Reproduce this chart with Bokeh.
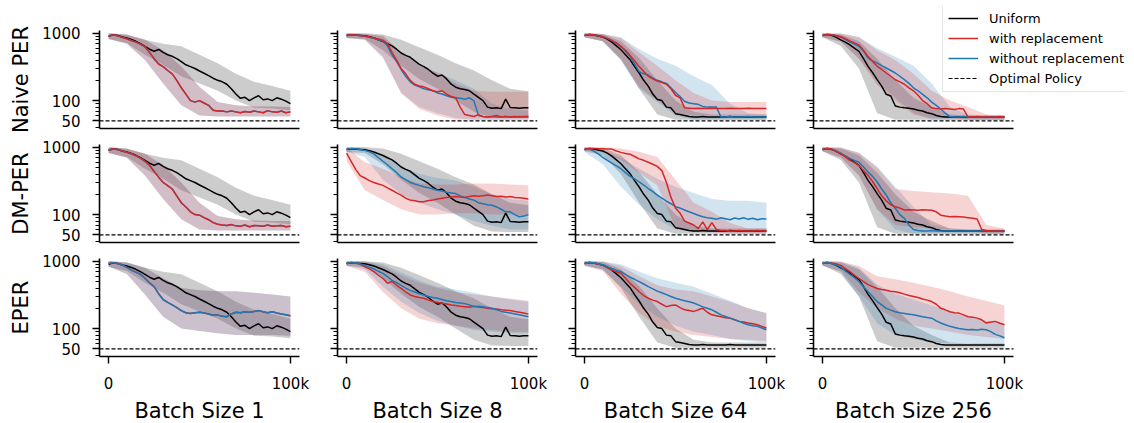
import math
from bokeh.plotting import figure
from bokeh.layouts import gridplot
from bokeh.models import (Range1d, FixedTicker, Legend, LegendItem, PrintfTickFormatter, Title)
from bokeh.embed import file_html
from bokeh.resources import INLINE

# ---------------- data ----------------
steps = [i * 2500 for i in range(41)]          # training steps for mean curves
band_steps = [i * 10000 for i in range(11)]    # training steps for spread bands

batch_sizes = [1, 8, 64, 256]
batch_titles = ["Batch Size 1", "Batch Size 8", "Batch Size 64", "Batch Size 256"]
row_names = ["Naive PER", "DM-PER", "EPER"]
optimal_value = 50
x_tick_values = [0, 100000]
x_tick_labels = ["0", "100k"]
y_major_ticks = [50, 100, 1000]
y_minor_ticks = [40, 60, 70, 80, 90, 200, 300, 400, 500, 600, 700, 800, 900]
legend_labels = ["Uniform", "with replacement", "without replacement", "Optimal Policy"]

# Uniform sampling (same baseline in every row)
uniform_bs1 = [900, 950, 930, 880, 850, 810, 760, 700, 640, 580, 540, 575, 520, 480, 455, 420, 380, 340, 320, 300, 275, 255, 235, 215, 200, 190, 175, 150, 125, 108, 112, 100, 110, 118, 103, 106, 100, 110, 105, 98, 90]
uniform_bs1_lo = [820, 720, 480, 340, 230, 180, 140, 100, 78, 76, 72]
uniform_bs1_hi = [1000, 960, 800, 700, 640, 480, 360, 250, 190, 165, 140]
uniform_bs8 = [930, 950, 940, 930, 920, 890, 850, 800, 755, 700, 650, 580, 510, 470, 440, 390, 345, 320, 290, 255, 230, 240, 210, 175, 158, 150, 146, 140, 125, 112, 100, 80, 77, 78, 76, 105, 79, 78, 77, 78, 78]
uniform_bs8_lo = [850, 820, 560, 330, 210, 150, 100, 68, 56, 55, 55]
uniform_bs8_hi = [1000, 1000, 960, 800, 620, 480, 360, 280, 200, 150, 138]
uniform_bs64 = [930, 960, 940, 910, 880, 820, 740, 650, 570, 480, 405, 320, 257, 200, 164, 125, 104, 100, 80, 78, 64, 62, 60, 58, 57, 57, 58, 57, 57, 57, 57, 57, 58, 57, 57, 57, 57, 57, 57, 57, 57]
uniform_bs64_lo = [870, 760, 400, 150, 62, 52, 52, 52, 52, 52, 52]
uniform_bs64_hi = [1000, 980, 760, 430, 200, 100, 68, 62, 62, 62, 62]
uniform_bs256 = [930, 960, 930, 870, 800, 740, 673, 600, 537, 420, 323, 260, 205, 164, 124, 117, 83, 80, 78, 77, 75, 72, 70, 66, 64, 60, 58, 57, 57, 57, 57, 57, 57, 57, 57, 57, 57, 57, 57, 57, 57]
uniform_bs256_lo = [870, 650, 300, 65, 52, 52, 52, 52, 52, 52, 52]
uniform_bs256_hi = [1000, 960, 760, 420, 200, 110, 80, 62, 60, 60, 60]

# Naive PER
naive_with_bs1 = [900, 950, 920, 870, 830, 780, 740, 690, 630, 520, 420, 350, 320, 280, 250, 200, 155, 125, 100, 95, 100, 92, 85, 72, 70, 70, 68, 70, 68, 66, 69, 67, 70, 68, 66, 71, 68, 67, 70, 66, 68]
naive_with_bs1_lo = [820, 700, 400, 180, 85, 60, 58, 58, 58, 58, 58]
naive_with_bs1_hi = [1000, 950, 800, 560, 320, 160, 95, 85, 82, 82, 80]
naive_without_bs1 = naive_with_bs1
naive_without_bs1_lo = naive_with_bs1_lo
naive_without_bs1_hi = naive_with_bs1_hi
naive_with_bs8 = [930, 950, 945, 930, 910, 880, 850, 820, 790, 700, 520, 400, 300, 250, 200, 175, 165, 160, 150, 140, 135, 140, 125, 115, 110, 80, 62, 60, 58, 62, 58, 57, 58, 60, 57, 58, 57, 58, 57, 58, 58]
naive_with_bs8_lo = [850, 800, 450, 130, 75, 60, 52, 52, 52, 52, 52]
naive_with_bs8_hi = [1000, 980, 920, 520, 330, 260, 180, 140, 135, 135, 135]
naive_without_bs8 = [930, 955, 945, 930, 900, 870, 840, 800, 760, 650, 480, 380, 290, 230, 190, 170, 160, 150, 145, 140, 130, 125, 118, 112, 110, 108, 105, 110, 100, 60, 58, 57, 58, 57, 57, 58, 57, 57, 58, 57, 57]
naive_without_bs8_lo = [850, 800, 430, 130, 80, 65, 55, 52, 52, 52, 52]
naive_without_bs8_hi = [1000, 980, 900, 520, 350, 260, 200, 150, 90, 75, 70]
naive_with_bs64 = [930, 960, 950, 920, 890, 840, 780, 720, 640, 560, 470, 390, 320, 270, 230, 210, 195, 185, 175, 150, 120, 110, 78, 77, 76, 77, 76, 76, 77, 76, 76, 76, 77, 76, 76, 76, 77, 76, 76, 76, 76]
naive_with_bs64_lo = [870, 760, 420, 160, 100, 65, 60, 60, 60, 60, 60]
naive_with_bs64_hi = [1000, 980, 850, 520, 330, 200, 130, 100, 95, 95, 95]
naive_without_bs64 = [930, 960, 950, 920, 890, 840, 780, 710, 630, 540, 450, 350, 270, 250, 240, 215, 200, 190, 180, 155, 132, 115, 98, 92, 90, 88, 82, 80, 80, 80, 57, 57, 58, 57, 57, 57, 58, 57, 57, 57, 57]
naive_without_bs64_lo = [870, 760, 400, 150, 95, 60, 52, 52, 52, 52, 52]
naive_without_bs64_hi = [1000, 980, 870, 580, 420, 330, 230, 170, 90, 65, 62]
naive_with_bs256 = [930, 960, 950, 920, 890, 830, 770, 720, 673, 560, 450, 380, 323, 290, 257, 230, 204, 190, 175, 155, 140, 120, 100, 90, 78, 76, 75, 76, 75, 74, 76, 75, 57, 57, 58, 57, 57, 57, 57, 58, 57]
naive_with_bs256_lo = [870, 750, 420, 170, 100, 62, 55, 55, 52, 52, 52]
naive_with_bs256_hi = [1000, 990, 870, 560, 400, 250, 140, 100, 80, 62, 60]
naive_without_bs256 = [930, 960, 950, 920, 880, 810, 740, 690, 636, 540, 430, 390, 360, 330, 305, 280, 257, 230, 205, 180, 155, 140, 124, 110, 95, 85, 75, 65, 58, 57, 57, 58, 57, 57, 57, 57, 58, 57, 57, 57, 57]
naive_without_bs256_lo = [870, 750, 420, 190, 110, 65, 52, 52, 52, 52, 52]
naive_without_bs256_hi = [1000, 990, 880, 600, 450, 330, 180, 80, 62, 60, 60]

# DM-PER
dm_with_bs1 = [900, 950, 930, 880, 840, 800, 750, 690, 620, 540, 440, 360, 300, 270, 240, 190, 150, 130, 110, 100, 98, 90, 84, 76, 72, 70, 69, 71, 68, 67, 70, 66, 69, 68, 67, 70, 67, 68, 69, 66, 67]
dm_with_bs1_lo = [820, 700, 380, 170, 85, 60, 58, 58, 58, 58, 58]
dm_with_bs1_hi = [1000, 950, 800, 540, 300, 150, 95, 85, 82, 80, 80]
dm_without_bs1 = dm_with_bs1
dm_without_bs1_lo = dm_with_bs1_lo
dm_without_bs1_hi = dm_with_bs1_hi
dm_with_bs8 = [820, 620, 470, 380, 350, 320, 300, 285, 272, 250, 230, 210, 195, 175, 165, 160, 155, 155, 162, 165, 170, 175, 180, 182, 185, 183, 180, 185, 190, 188, 190, 195, 190, 185, 188, 183, 185, 180, 178, 175, 170]
dm_with_bs8_lo = [620, 230, 165, 120, 100, 100, 105, 105, 100, 100, 98]
dm_with_bs8_hi = [1000, 600, 480, 360, 290, 280, 280, 290, 290, 280, 272]
dm_without_bs8 = [930, 960, 950, 930, 900, 860, 800, 700, 620, 550, 480, 420, 362, 330, 300, 285, 272, 260, 250, 240, 230, 225, 215, 210, 205, 190, 180, 170, 164, 150, 145, 140, 138, 130, 120, 110, 110, 100, 93, 95, 100]
dm_without_bs8_lo = [860, 720, 330, 200, 150, 120, 100, 80, 68, 60, 60]
dm_without_bs8_hi = [1000, 990, 760, 520, 400, 350, 320, 260, 200, 170, 160]
dm_with_bs64 = [930, 960, 960, 955, 950, 945, 940, 880, 840, 810, 790, 730, 673, 640, 600, 560, 520, 450, 300, 180, 125, 105, 80, 75, 70, 62, 78, 60, 76, 60, 58, 58, 57, 57, 58, 57, 57, 57, 58, 57, 57]
dm_with_bs64_lo = [880, 850, 650, 420, 270, 65, 55, 55, 52, 52, 52]
dm_with_bs64_hi = [1000, 1000, 960, 860, 720, 330, 150, 110, 75, 62, 62]
dm_without_bs64 = [930, 940, 880, 800, 710, 640, 580, 530, 480, 420, 370, 340, 305, 275, 244, 220, 195, 175, 158, 145, 131, 125, 117, 110, 104, 98, 93, 90, 88, 85, 90, 87, 84, 89, 86, 90, 85, 88, 84, 87, 86]
dm_without_bs64_lo = [850, 560, 260, 140, 85, 60, 55, 55, 55, 55, 55]
dm_without_bs64_hi = [1000, 880, 700, 480, 340, 260, 210, 170, 160, 160, 150]
dm_with_bs256 = [930, 960, 940, 870, 800, 720, 640, 590, 537, 450, 383, 310, 244, 190, 160, 140, 131, 125, 117, 118, 117, 116, 118, 117, 116, 110, 98, 95, 93, 94, 93, 92, 90, 88, 86, 60, 58, 57, 57, 57, 57]
dm_with_bs256_lo = [870, 700, 380, 120, 70, 65, 62, 60, 58, 52, 52]
dm_with_bs256_hi = [1000, 990, 820, 500, 240, 225, 215, 205, 190, 70, 62]
dm_without_bs256 = [930, 960, 940, 880, 820, 740, 680, 640, 600, 510, 430, 370, 305, 240, 195, 150, 124, 100, 88, 70, 60, 58, 57, 57, 58, 57, 57, 57, 57, 57, 57, 57, 57, 57, 57, 57, 57, 57, 57, 57, 57]
dm_without_bs256_lo = [870, 720, 380, 120, 60, 52, 52, 52, 52, 52, 52]
dm_without_bs256_hi = [1000, 990, 830, 520, 260, 130, 70, 62, 60, 60, 60]

# EPER
eper_with_bs1 = [930, 955, 930, 880, 810, 740, 690, 640, 560, 480, 420, 330, 270, 245, 225, 205, 185, 172, 168, 172, 175, 170, 165, 158, 160, 152, 150, 165, 175, 172, 178, 175, 180, 185, 178, 172, 178, 170, 165, 160, 155]
eper_with_bs1_lo = [840, 650, 320, 150, 100, 92, 85, 80, 80, 80, 78]
eper_with_bs1_hi = [1000, 960, 800, 560, 400, 370, 360, 360, 340, 320, 300]
eper_without_bs1 = eper_with_bs1
eper_without_bs1_lo = eper_with_bs1_lo
eper_without_bs1_hi = eper_with_bs1_hi
eper_with_bs8 = [930, 960, 940, 900, 830, 770, 700, 620, 555, 470, 500, 440, 395, 350, 316, 300, 290, 283, 265, 252, 245, 238, 232, 225, 220, 215, 212, 208, 215, 210, 205, 200, 198, 195, 190, 188, 185, 180, 175, 170, 164]
eper_with_bs8_lo = [850, 700, 350, 200, 140, 120, 110, 100, 95, 90, 90]
eper_with_bs8_hi = [1000, 990, 850, 620, 480, 400, 350, 320, 300, 280, 260]
eper_without_bs8 = [930, 960, 945, 910, 870, 820, 770, 710, 660, 590, 520, 480, 440, 400, 370, 350, 330, 316, 300, 290, 283, 270, 260, 252, 245, 240, 235, 225, 212, 215, 212, 205, 200, 190, 180, 175, 170, 165, 160, 155, 150]
eper_without_bs8_lo = [860, 760, 420, 250, 170, 130, 110, 95, 90, 85, 85]
eper_without_bs8_hi = [1000, 990, 900, 680, 520, 420, 380, 340, 300, 270, 250]
eper_with_bs64 = [930, 960, 940, 910, 870, 800, 740, 700, 660, 560, 470, 410, 353, 310, 283, 265, 252, 230, 212, 220, 225, 205, 190, 185, 180, 190, 200, 175, 160, 155, 150, 145, 143, 135, 128, 125, 121, 118, 114, 108, 102]
eper_with_bs64_lo = [850, 720, 330, 170, 110, 90, 80, 75, 70, 68, 65]
eper_with_bs64_hi = [1000, 990, 850, 600, 440, 380, 360, 300, 250, 200, 170]
eper_without_bs64 = [930, 960, 950, 920, 880, 830, 780, 740, 700, 640, 580, 540, 500, 460, 420, 390, 360, 340, 320, 300, 283, 270, 260, 250, 240, 225, 210, 200, 190, 175, 160, 152, 143, 135, 128, 120, 114, 110, 108, 102, 96]
eper_without_bs64_lo = [860, 740, 420, 230, 150, 110, 90, 80, 70, 65, 62]
eper_without_bs64_hi = [1000, 990, 900, 700, 560, 480, 420, 330, 260, 200, 170]
eper_with_bs256 = [930, 960, 940, 910, 870, 780, 700, 620, 555, 500, 450, 420, 395, 380, 370, 360, 353, 340, 325, 310, 300, 290, 275, 265, 252, 230, 200, 190, 178, 172, 170, 160, 150, 148, 143, 135, 121, 125, 128, 120, 114]
eper_with_bs256_lo = [860, 720, 350, 200, 140, 110, 100, 90, 80, 75, 70]
eper_with_bs256_hi = [1000, 990, 850, 600, 540, 480, 420, 360, 300, 260, 220]
eper_without_bs256 = [930, 960, 930, 880, 820, 720, 640, 570, 500, 420, 353, 300, 252, 225, 200, 188, 178, 172, 168, 164, 160, 155, 150, 146, 143, 130, 121, 114, 108, 104, 100, 98, 96, 97, 95, 98, 96, 90, 82, 78, 73]
eper_without_bs256_lo = [860, 700, 300, 120, 80, 70, 62, 60, 60, 58, 58]
eper_without_bs256_hi = [1000, 990, 800, 450, 330, 270, 220, 180, 150, 130, 120]

# tables built from the named arrays
uniform = {
    1: (uniform_bs1, uniform_bs1_lo, uniform_bs1_hi),
    8: (uniform_bs8, uniform_bs8_lo, uniform_bs8_hi),
    64: (uniform_bs64, uniform_bs64_lo, uniform_bs64_hi),
    256: (uniform_bs256, uniform_bs256_lo, uniform_bs256_hi),
}
g = globals()
prefix = {"Naive PER": "naive", "DM-PER": "dm", "EPER": "eper"}


def series(row, kind, bs):
    name = f"{prefix[row]}_{kind}_bs{bs}"
    return g[name], g[name + "_lo"], g[name + "_hi"]


# ---------------- styling ----------------
BLACK = "#000000"
RED = "#d62728"
BLUE = "#1f77b4"
FONT = "DejaVu Sans"
FRAME_W, FRAME_H = 200, 98
X0, X1 = -5000, 105000
Y0, Y1 = 38.5, 1100
EXT_W, EXT_H = 112, 24   # empty frame room (right of last column / above first row) holding the legend
LABEL_PX = 21
CHAR_EM = {" ": 0.318, "B": 0.686, "a": 0.613, "t": 0.392, "c": 0.55, "h": 0.634, "S": 0.635,
           "i": 0.278, "z": 0.525, "e": 0.615, "N": 0.748, "v": 0.592, "P": 0.603, "E": 0.632,
           "R": 0.695, "D": 0.77, "M": 0.863, "-": 0.361}


def text_px(s):
    return sum(CHAR_EM.get(ch, 0.636) for ch in s) * LABEL_PX


def side_title(text, side_len, extra):
    """Title centred on the data part of an axis whose frame has `extra` empty px."""
    if extra == 0:
        return Title(text=text, align="center")
    return Title(text=text, align="left", offset=(side_len / 2) - text_px(text) / 2)


rows = []
legend_fig = None
legend_renderers = []
for r, row in enumerate(row_names):
    fig_row = []
    for c, bs in enumerate(batch_sizes):
        fw = FRAME_W + (EXT_W if c == 3 else 0)
        fh = FRAME_H + (EXT_H if r == 0 else 0)
        x_end = X0 + (X1 - X0) * fw / FRAME_W
        ly0, ly1 = math.log10(Y0), math.log10(Y1)
        y_end = 10 ** (ly0 + (ly1 - ly0) * fh / FRAME_H)
        p = figure(
            frame_width=fw, frame_height=fh,
            min_border_left=99 if c == 0 else 19,
            min_border_right=0 if c == 3 else 19,
            min_border_top=6 if r == 0 else 8,
            min_border_bottom=50 if r == 2 else 8,
            x_range=Range1d(X0, x_end), y_range=Range1d(Y0, y_end),
            y_axis_type="log", output_backend="svg", toolbar_location=None,
            background_fill_color="white", border_fill_color="white",
        )
        p.outline_line_color = None
        p.grid.visible = False

        # y axis
        ya = p.yaxis[0]
        ya.bounds = (Y0, Y1)
        ya.ticker = FixedTicker(ticks=y_major_ticks, minor_ticks=y_minor_ticks)
        ya.formatter = PrintfTickFormatter(format="%d")
        ya.axis_line_width = 1.6
        ya.axis_line_color = BLACK
        ya.major_tick_line_width = 1.4
        ya.minor_tick_line_width = 1.0
        ya.major_tick_line_color = BLACK
        ya.minor_tick_line_color = BLACK
        ya.major_tick_out = 7
        ya.major_tick_in = 0
        ya.minor_tick_out = 4
        ya.minor_tick_in = 0
        ya.major_label_text_font = FONT
        ya.major_label_text_font_size = "15px"
        ya.major_label_text_color = BLACK
        if c == 0:
            ya.major_label_standoff = 12
            t = side_title(row, FRAME_H, fh - FRAME_H)
            t.text_font = FONT
            t.text_font_size = f"{LABEL_PX}px"
            t.text_font_style = "normal"
            t.text_color = BLACK
            t.standoff = 13
            p.add_layout(t, "left")
        else:
            ya.major_label_overrides = {tk: "" for tk in y_major_ticks}
            ya.major_label_standoff = 0

        # x axis
        xa = p.xaxis[0]
        xa.bounds = (X0, X1)
        xa.axis_line_width = 1.6
        xa.axis_line_color = BLACK
        xa.minor_tick_out = 0
        xa.minor_tick_in = 0
        if r == 2:
            xa.ticker = FixedTicker(ticks=x_tick_values)
            xa.major_label_overrides = dict(zip(x_tick_values, x_tick_labels))
            xa.major_tick_out = 7
            xa.major_tick_in = 0
            xa.major_tick_line_width = 1.4
            xa.major_tick_line_color = BLACK
            xa.major_label_text_font = FONT
            xa.major_label_text_font_size = "15px"
            xa.major_label_text_color = BLACK
            xa.major_label_standoff = 11
            t = side_title(batch_titles[c], FRAME_W, fw - FRAME_W)
            t.text_font = FONT
            t.text_font_size = f"{LABEL_PX}px"
            t.text_font_style = "normal"
            t.text_color = BLACK
            t.standoff = 2
            p.add_layout(t, "below")
        else:
            xa.ticker = FixedTicker(ticks=[])
            xa.major_tick_out = 0
            xa.major_tick_in = 0
            xa.major_label_standoff = 0

        u, ulo, uhi = uniform[bs]
        w, wlo, whi = series(row, "with", bs)
        wo, wolo, wohi = series(row, "without", bs)

        p.varea(x=band_steps, y1=ulo, y2=uhi, fill_color=BLACK, fill_alpha=0.2)
        if r < 2:
            p.varea(x=band_steps, y1=wolo, y2=wohi, fill_color=BLUE, fill_alpha=0.2)
            p.varea(x=band_steps, y1=wlo, y2=whi, fill_color=RED, fill_alpha=0.2)
        else:
            p.varea(x=band_steps, y1=wlo, y2=whi, fill_color=RED, fill_alpha=0.2)
            p.varea(x=band_steps, y1=wolo, y2=wohi, fill_color=BLUE, fill_alpha=0.2)

        lu = p.line(steps, u, line_color=BLACK, line_width=1.5)
        if r < 2:
            lwo = p.line(steps, wo, line_color=BLUE, line_width=1.5)
            lw = p.line(steps, w, line_color=RED, line_width=1.5)
        else:
            lw = p.line(steps, w, line_color=RED, line_width=1.5)
            lwo = p.line(steps, wo, line_color=BLUE, line_width=1.5)

        # optimal policy reference line across the axis extent
        opt = p.segment(x0=[X0], y0=[optimal_value], x1=[X1], y1=[optimal_value],
                        line_color=BLACK, line_dash="4 2", line_width=1.2)

        if r == 0 and c == 3:
            legend_fig = p
            legend_renderers = [lu, lw, lwo, opt]
        fig_row.append(p)
    rows.append(fig_row)

legend = Legend(
    items=[LegendItem(label=lab, renderers=[rr]) for lab, rr in zip(legend_labels, legend_renderers)],
    location=(129, FRAME_H + EXT_H - 86),
    label_text_font=FONT, label_text_font_size="13px", label_text_color=BLACK,
    glyph_width=30, glyph_height=16, label_height=16, label_standoff=11,
    spacing=4, padding=5, margin=0,
    border_line_color="#cccccc", border_line_width=1,
    background_fill_color="white", background_fill_alpha=0.85,
)
legend_fig.add_layout(legend)

grid = gridplot(rows, toolbar_location=None)

open("out.html", "w").write(file_html(grid, INLINE))
